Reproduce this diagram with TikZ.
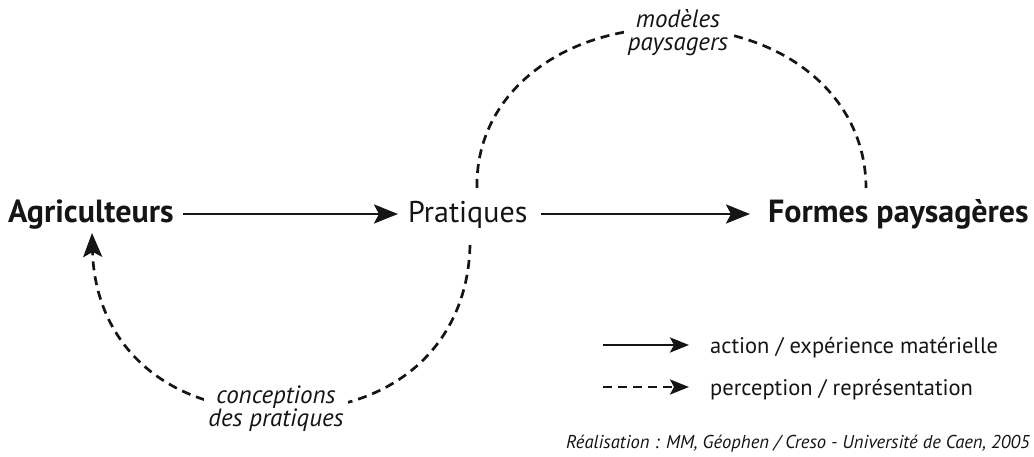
\documentclass[tikz,border=0pt]{standalone}
\usepackage{fontspec}
\setmainfont{PT Sans}
\usetikzlibrary{arrows.meta}
\definecolor{ink}{HTML}{151515}
\tikzset{
  txt/.style={inner sep=0pt, text=ink},
  bigtxt/.style={txt, font=\fontsize{32}{34}\selectfont\bfseries},
  midtxt/.style={txt, font=\fontsize{30}{32}\selectfont},
  labtxt/.style={txt, font=\fontsize{25}{23}\selectfont\itshape, align=center, fill=white, inner sep=4pt},
  legtxt/.style={txt, font=\fontsize{22.5}{24}\selectfont},
  credtxt/.style={txt, font=\fontsize{18.6}{20}\selectfont\itshape},
  act/.style={line width=2.7pt, draw=ink, -{Stealth[length=24pt,width=19pt,inset=5pt]}},
  per/.style={act, dash pattern=on 9pt off 6pt},
  legact/.style={act, -{Stealth[length=19pt,width=15pt,inset=4pt]}},
  legper/.style={per, -{Stealth[length=19pt,width=15pt,inset=4pt]}},
}
\begin{document}
\begin{tikzpicture}[x=1pt,y=-1pt]
\useasboundingbox (0,0) rectangle (1034,457);
\clip (0,0) rectangle (1034,457);
% main nodes
\node[bigtxt, anchor=base west] (agr) at (8,223) {Agriculteurs};
\node[midtxt, anchor=base west] (pra) at (408,223) {Pratiques};
\node[bigtxt, anchor=base west] (for) at (768,223) {Formes paysagères};
% main arrows
\draw[act] ([shift={(9,-9)}]agr.base east) -- ([shift={(-10,-9)}]pra.base west);
\draw[act] ([shift={(13,-9)}]pra.base east) -- ([shift={(-18,-9)}]for.base west);
% curve anchors
\coordinate (ptop) at (477,188);
\coordinate (pbot) at (470,245);
\coordinate (ftop) at (866,188);
\coordinate (atip) at (92,233);
\coordinate (topmid) at (671,28);
\coordinate (botmid) at (281,411);
% top dashed arc
\draw[per, -] (ptop) .. controls (475,95) and (560,28) .. (topmid)
                .. controls (782,28) and (866,95) .. (ftop);
% bottom dashed arc
\draw[per] (pbot) .. controls (468,340) and (400,411) .. (botmid)
                  .. controls (160,411) and (95,340) .. (atip);
% labels
\node[labtxt] (lmod) at (678,33) {modèles\\paysagers};
\node[labtxt] (lcon) at (276,409) {conceptions\\des pratiques};
% legend
\coordinate (l1a) at (603,345);
\coordinate (l1b) at (689,345);
\coordinate (l2a) at (603,387);
\coordinate (l2b) at (689,387);
\draw[legact] (l1a) -- (l1b);
\draw[legper] (l2a) -- (l2b);
\node[legtxt, anchor=base west] (t1) at (710,353) {action / expérience matérielle};
\node[legtxt, anchor=base west] (t2) at (710,395) {perception / représentation};
\node[credtxt, anchor=base west] (cred) at (566,448) {Réalisation : MM, Géophen / Creso - Université de Caen, 2005};
\end{tikzpicture}
\end{document}
